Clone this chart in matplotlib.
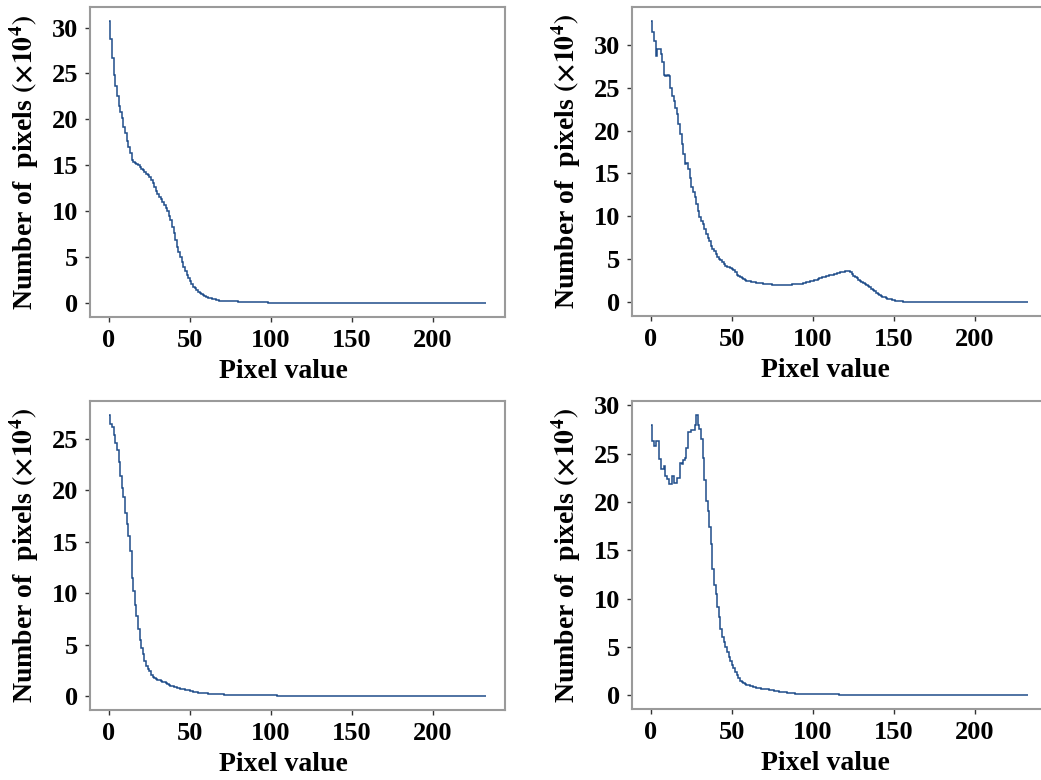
import matplotlib
matplotlib.use("Agg")
import matplotlib.pyplot as plt
from matplotlib.ticker import MultipleLocator

plt.rcParams['font.family'] = ['Liberation Serif', 'DejaVu Serif']
plt.rcParams['font.weight'] = 'bold'
plt.rcParams['mathtext.fontset'] = 'stix'

# ---- histogram data (counts in units of 10^4), pixel value bins ----
# Panel (a)
counts_a = [30.7, 28.7, 26.7, 24.8, 23.6, 22.5, 21.5, 20.8, 20.1, 19.2,
            18.5, 17.7, 17.0, 16.3, 15.6, 15.4, 15.2, 15.1, 15.0, 14.8,
            14.6, 14.5, 14.3, 14.1, 13.9, 13.7, 13.4, 13.1, 12.6, 12.2,
            11.9, 11.6, 11.3, 11.0, 10.7, 10.3, 10.0, 9.5, 9.0, 8.3,
            7.6, 6.9, 6.1, 5.6, 5.0, 4.5, 3.9, 3.5, 3.1, 2.7,
            2.4, 2.1, 1.8, 1.6, 1.4, 1.2, 1.1, 0.95, 0.85, 0.75,
            0.65, 0.6, 0.55, 0.5, 0.45, 0.4, 0.35, 0.3, 0.27, 0.25,
            0.22, 0.18, 0.1, 0.02]
edges_a = list(range(72)) + [80, 98, 233]

# Panel (b)
counts_b = [32.8, 31.5, 30.5, 28.7, 29.5, 29.5, 28.9, 28.0, 26.5, 26.4,
            26.5, 26.4, 25.0, 24.0, 23.5, 22.7, 21.9, 20.8, 19.6, 18.4,
            17.3, 16.1, 16.2, 15.5, 14.5, 13.4, 12.8, 12.2, 11.4, 10.6,
            9.9, 9.5, 9.1, 8.5, 7.9, 7.5, 7.1, 6.5, 6.2, 5.9,
            5.6, 5.2, 5.0, 4.85, 4.7, 4.45, 4.2, 4.1, 4.05, 4.0,
            3.85, 3.7, 3.45, 3.2, 3.05, 2.9, 2.8, 2.7, 2.6, 2.5,
            2.45, 2.4, 2.35, 2.3, 2.3, 2.25, 2.25, 2.2, 2.2, 2.15,
            2.1, 2.1, 2.07, 2.05, 2.05, 2.0, 2.0, 2.02, 1.98, 2.0,
            2.0, 2.03, 1.98, 2.0, 2.0, 2.02, 2.0, 2.05, 2.07, 2.05,
            2.07, 2.1, 2.07, 2.15, 2.2, 2.25, 2.3, 2.35, 2.4, 2.45,
            2.5, 2.55, 2.6, 2.7, 2.75, 2.8, 2.9, 2.95, 3.0, 3.05,
            3.1, 3.15, 3.2, 3.3, 3.3, 3.35, 3.4, 3.45, 3.5, 3.55,
            3.6, 3.65, 3.6, 3.45, 3.25, 3.05, 2.9, 2.75, 2.6, 2.45,
            2.35, 2.2, 2.1, 1.95, 1.85, 1.7, 1.55, 1.4, 1.25, 1.1,
            0.95, 0.85, 0.72, 0.62, 0.54, 0.46, 0.4, 0.34, 0.29, 0.24,
            0.2, 0.16, 0.13, 0.1, 0.08, 0.06, 0.04, 0.03, 0.02, 0.0]
edges_b = list(range(160)) + [233]

# Panel (c)
counts_c = [27.3, 26.4, 26.1, 25.4, 24.6, 23.9, 22.7, 21.4, 20.2, 19.3,
            17.8, 16.7, 15.6, 14.1, 11.5, 10.2, 8.9, 7.8, 6.5, 5.5,
            4.7, 4.1, 3.4, 2.9, 2.6, 2.4, 2.1, 1.9, 1.8, 1.7,
            1.6, 1.53, 1.46, 1.4, 1.33, 1.26, 1.18, 1.1, 1.03, 0.97,
            0.92, 0.86, 0.8, 0.76, 0.72, 0.68, 0.65, 0.61, 0.58, 0.55,
            0.52, 0.48, 0.45, 0.42, 0.38, 0.35, 0.32, 0.3, 0.29, 0.27,
            0.26, 0.25, 0.24, 0.23, 0.22, 0.22, 0.21, 0.21, 0.2, 0.19,
            0.18, 0.16, 0.1, 0.02]
edges_c = list(range(72)) + [80, 104, 233]

# Panel (d)
counts_d = [28.0, 26.3, 25.8, 26.3, 26.3, 24.4, 23.4, 23.4, 23.7, 22.7,
            22.4, 21.9, 21.9, 22.7, 22.0, 22.0, 22.5, 22.5, 24.0, 23.9,
            24.3, 24.6, 25.6, 27.2, 27.2, 27.4, 27.4, 28.0, 29.0, 28.0,
            27.5, 26.5, 24.6, 22.3, 20.1, 19.1, 17.4, 15.7, 13.1, 11.4,
            10.5, 9.1, 8.1, 6.9, 6.0, 5.5, 5.0, 4.5, 4.0, 3.5,
            3.1, 2.8, 2.4, 2.1, 1.75, 1.5, 1.35, 1.25, 1.17, 1.1,
            1.03, 0.96, 0.92, 0.87, 0.82, 0.78, 0.74, 0.7, 0.68, 0.66,
            0.64, 0.62, 0.6, 0.57, 0.54, 0.51, 0.48, 0.45, 0.42, 0.38,
            0.34, 0.32, 0.3, 0.28, 0.27, 0.25, 0.22, 0.2, 0.18, 0.16,
            0.15, 0.14, 0.1, 0.02]
edges_d = list(range(93)) + [116, 233]

x_ticks = [0, 50, 100, 150, 200]
x_label = "Pixel value"
y_label = r"Number of  pixels $(\times10^4)$"

LINE_COLOR = "#1f4d8a"
SPINE_COLOR = "#9a9a9a"

W, H = 1041, 780
fig = plt.figure(figsize=(W / 100, H / 100), dpi=100)


def panel(left, top, right, bottom):
    return fig.add_axes([left / W, 1 - bottom / H, (right - left) / W, (bottom - top) / H])


def draw(ax, counts, edges):
    ax.stairs(counts, edges, baseline=None, color=LINE_COLOR, linewidth=1.1)
    x0, x1 = edges[0], edges[-1]
    xpad = 0.05 * (x1 - x0)
    ax.set_xlim(x0 - xpad, x1 + xpad)
    y0, y1 = min(counts), max(counts)
    ypad = 0.05 * (y1 - y0)
    ax.set_ylim(y0 - ypad, y1 + ypad)
    ax.set_xticks(x_ticks)
    ax.yaxis.set_major_locator(MultipleLocator(5))
    ax.tick_params(direction="out", length=3.5, width=1.0, color="#333333",
                   labelsize=19, pad=5)
    for lab in ax.get_xticklabels() + ax.get_yticklabels():
        lab.set_fontweight("bold")
    for sp in ax.spines.values():
        sp.set_color(SPINE_COLOR)
        sp.set_linewidth(1.5)
    ax.set_xlabel(x_label, fontsize=20, fontweight="bold", labelpad=5,
                  x=0.465, ha="center")
    ax.set_ylabel(y_label, fontsize=20, fontweight="bold", labelpad=8)


ax_a = panel(90, 7, 505, 317)
ax_b = panel(632, 7, 1047, 316)
ax_c = panel(90, 401, 505, 710)
ax_d = panel(632, 401, 1047, 709)

draw(ax_a, counts_a, edges_a)
draw(ax_b, counts_b, edges_b)
draw(ax_c, counts_c, edges_c)
draw(ax_d, counts_d, edges_d)

fig.savefig("out.png", dpi=100)
